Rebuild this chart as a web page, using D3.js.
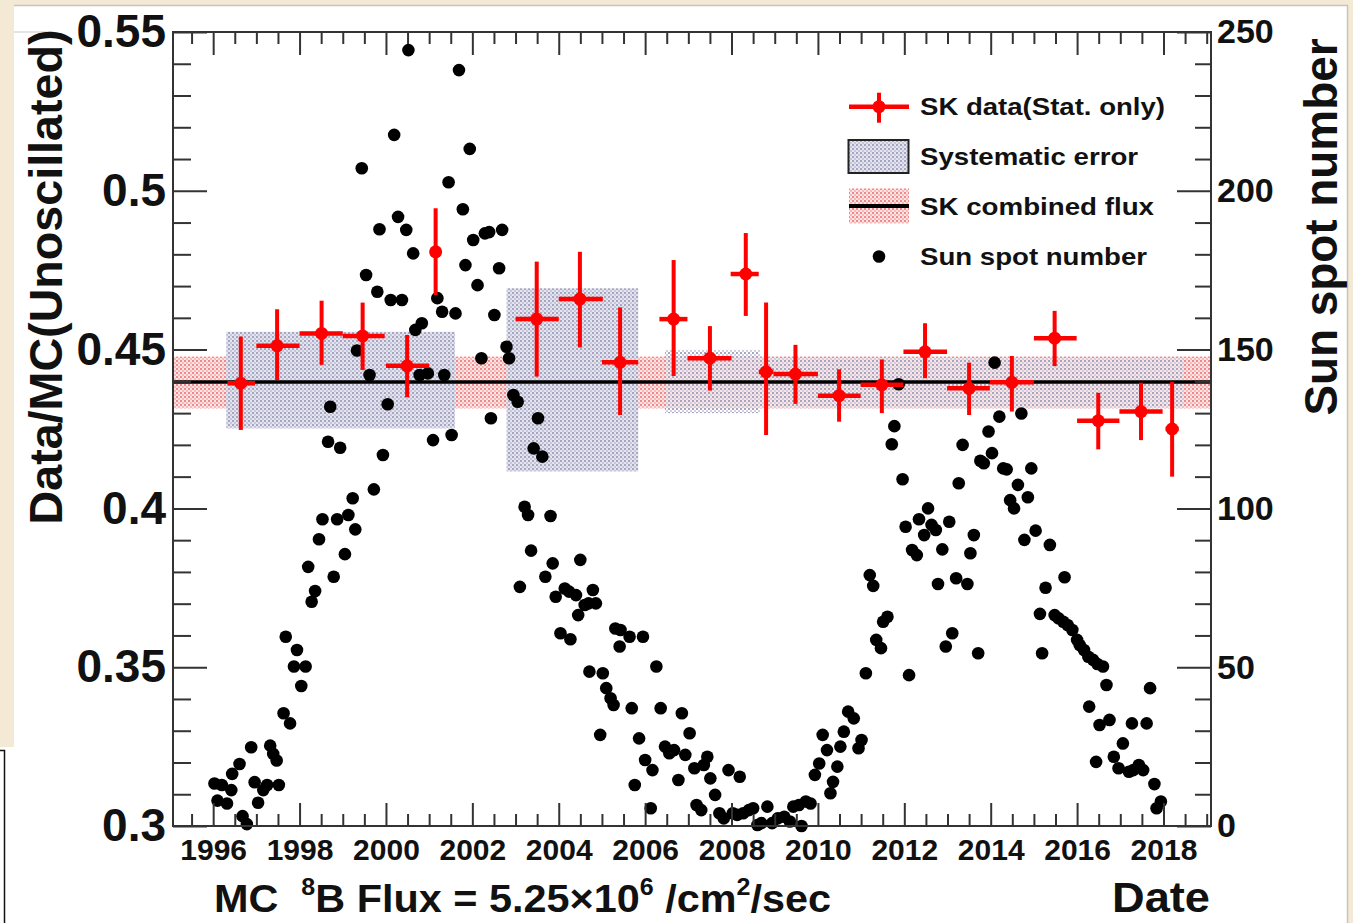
<!DOCTYPE html>
<html>
<head>
<meta charset="utf-8">
<script src="https://cdn.jsdelivr.net/npm/d3@7"></script>
<style>
  body { margin: 0; background: #f3e9d5; }
  svg { display: block; }
</style>
</head>
<body>
<div id="chart"></div>
<script>
const yearTicks = [1996, 1998, 2000, 2002, 2004, 2006, 2008, 2010, 2012, 2014, 2016, 2018];
const ratioTicks = [0.3, 0.35, 0.4, 0.45, 0.5, 0.55];
const ratioTickLabels = ["0.3", "0.35", "0.4", "0.45", "0.5", "0.55"];
const sunTicks = [0, 50, 100, 150, 200, 250];

// SK yearly points: bin edges, marker date, ratio and stat. error ends
const skFrom  = [1996.33, 1997.0, 1998.0, 1999.0, 2000.0, 2001.05, 2003.0, 2004.0, 2005.0, 2006.33, 2006.98, 2007.98, 2008.63, 2008.97, 2010.0, 2010.99, 2011.98, 2012.99, 2013.98, 2015.0, 2016.0, 2016.98, 2018.05];
const skTo    = [1996.97, 1998.0, 1999.0, 1999.97, 2001.0, 2001.25, 2004.0, 2005.02, 2005.84, 2006.98, 2008.0, 2008.63, 2008.97, 2010.0, 2010.99, 2011.98, 2012.99, 2013.98, 2015.0, 2015.99, 2016.98, 2017.98, 2018.35];
const skDate  = [1996.64, 1997.48, 1998.51, 1999.46, 2000.49, 2001.15, 2003.49, 2004.49, 2005.42, 2006.66, 2007.5, 2008.33, 2008.8, 2009.48, 2010.49, 2011.48, 2012.48, 2013.5, 2014.49, 2015.48, 2016.49, 2017.48, 2018.2];
const skRatio = [0.4394, 0.4512, 0.4551, 0.4543, 0.4449, 0.4808, 0.4596, 0.4659, 0.4460, 0.4596, 0.4473, 0.4738, 0.4430, 0.4423, 0.4355, 0.4389, 0.4493, 0.4378, 0.4397, 0.4536, 0.4276, 0.4305, 0.4250];
const skHigh  = [0.4541, 0.4627, 0.4654, 0.4648, 0.4546, 0.4945, 0.4777, 0.4808, 0.4633, 0.4782, 0.4574, 0.4867, 0.4648, 0.4515, 0.4438, 0.4469, 0.4583, 0.4459, 0.4480, 0.4622, 0.4364, 0.4396, 0.4399];
const skLow   = [0.4247, 0.4404, 0.4452, 0.4436, 0.4350, 0.4672, 0.4415, 0.4507, 0.4294, 0.4417, 0.4371, 0.4606, 0.4231, 0.4329, 0.4273, 0.4300, 0.4410, 0.4294, 0.4305, 0.4448, 0.4186, 0.4215, 0.4100];

// systematic error per SK phase
const sysFrom = [1996.30, 2002.79, 2006.46, 2008.66];
const sysTo   = [2001.60, 2005.84, 2008.66, 2018.45];
const sysLow  = [0.4252, 0.4116, 0.4300, 0.4316];
const sysHigh = [0.4556, 0.4693, 0.4499, 0.4477];

const combinedFlux = 0.4398;
const combinedLow = 0.4315;
const combinedHigh = 0.4478;

// monthly sun spot number
const sunDate = [
  1996.03, 1996.10, 1996.20, 1996.32, 1996.42, 1996.44, 1996.61, 1996.68, 1996.78, 1996.88, 1996.96,
  1997.04, 1997.16, 1997.25, 1997.32, 1997.39, 1997.47, 1997.52, 1997.63, 1997.68, 1997.78, 1997.87, 1997.94,
  1998.04, 1998.14, 1998.20, 1998.28, 1998.36, 1998.45, 1998.53, 1998.66, 1998.71, 1998.79, 1998.87, 1998.94,
  1999.05, 1999.13, 1999.23, 1999.29, 1999.33, 1999.44, 1999.54, 1999.62, 1999.72, 1999.80, 1999.85, 1999.93,
  2000.04, 2000.11, 2000.19, 2000.28, 2000.37, 2000.47, 2000.52, 2000.63, 2000.68, 2000.78, 2000.83, 2000.97,
  2001.09, 2001.19, 2001.30, 2001.35, 2001.45, 2001.52, 2001.61, 2001.69, 2001.78, 2001.84, 2001.94,
  2002.02, 2002.12, 2002.21, 2002.29, 2002.39, 2002.43, 2002.51, 2002.62, 2002.69, 2002.79, 2002.85, 2002.95,
  2003.05, 2003.10, 2003.21, 2003.29, 2003.36, 2003.42, 2003.52, 2003.62, 2003.69, 2003.81, 2003.86, 2003.93,
  2004.04, 2004.14, 2004.24, 2004.27, 2004.40, 2004.45, 2004.50, 2004.60, 2004.69, 2004.71, 2004.79, 2004.86, 2004.96,
  2005.02, 2005.10, 2005.20, 2005.27, 2005.31, 2005.41, 2005.43, 2005.64, 2005.69, 2005.76, 2005.86, 2005.95,
  2006.00, 2006.13, 2006.17, 2006.26, 2006.36, 2006.46, 2006.56, 2006.67, 2006.77, 2006.85, 2006.93,
  2007.03, 2007.14, 2007.19, 2007.30, 2007.36, 2007.44, 2007.51, 2007.62, 2007.72, 2007.82, 2007.93,
  2008.03, 2008.13, 2008.19, 2008.27, 2008.40, 2008.50, 2008.60, 2008.69, 2008.83, 2008.94,
  2009.07, 2009.22, 2009.35, 2009.43, 2009.56, 2009.62, 2009.72, 2009.83, 2009.93,
  2010.03, 2010.11, 2010.21, 2010.29, 2010.35, 2010.45, 2010.52, 2010.60, 2010.70, 2010.83, 2010.94,
  2011.01, 2011.11, 2011.20, 2011.28, 2011.35, 2011.46, 2011.51, 2011.61, 2011.71, 2011.77, 2011.87, 2011.96,
  2012.03, 2012.11, 2012.18, 2012.29, 2012.34, 2012.46, 2012.55, 2012.63, 2012.73, 2012.78, 2012.88, 2012.96,
  2013.04, 2013.11, 2013.20, 2013.26, 2013.35, 2013.46, 2013.53, 2013.61, 2013.71, 2013.76, 2013.84, 2013.95,
  2014.03, 2014.09, 2014.20, 2014.29, 2014.37, 2014.45, 2014.54, 2014.63, 2014.71, 2014.78, 2014.86, 2014.94,
  2015.04, 2015.14, 2015.19, 2015.27, 2015.37, 2015.48, 2015.57, 2015.68, 2015.71, 2015.78, 2015.89,
  2016.00, 2016.06, 2016.16, 2016.26, 2016.28, 2016.37, 2016.44, 2016.47, 2016.52, 2016.60, 2016.68, 2016.75, 2016.85, 2016.96,
  2017.06, 2017.20, 2017.27, 2017.30, 2017.43, 2017.53, 2017.61, 2017.69, 2017.79, 2017.84, 2017.94
];
const sunNumber = [
  13.4, 8.0, 12.9, 7.1, 11.3, 16.4, 19.5, 3.1, 0.6, 24.8, 13.8,
  7.3, 11.3, 12.9, 25.3, 22.7, 20.6, 12.9, 35.5, 59.6, 32.3, 50.2, 55.4,
  44.1, 50.2, 81.6, 70.6, 74.0, 90.3, 96.6, 121.0, 132.0, 78.5, 96.6, 119.1,
  85.6, 97.9, 103.2, 93.4, 149.7, 207.1, 173.5, 142.0, 106.0, 168.2, 187.9, 116.8,
  132.8, 165.6, 217.6, 191.8, 165.6, 187.7, 244.3, 180.3, 156.2, 142.0, 158.3, 142.5,
  121.5, 166.2, 161.9, 142.0, 202.7, 123.1, 161.4, 238.0, 194.2, 176.6, 213.2,
  184.5, 170.3, 147.3, 186.6, 187.0, 128.4, 160.9, 175.6, 187.7, 150.9, 147.3, 135.7,
  133.6, 75.3, 100.5, 97.9, 86.7, 118.9, 128.4, 116.3, 78.5, 97.6, 82.7, 72.2,
  60.7, 74.8, 73.8, 58.8, 72.7, 66.4, 83.8, 69.6, 70.1, 48.6, 74.3, 70.1, 28.7,
  48.1, 43.4, 40.2, 38.1, 62.2, 56.5, 61.7, 59.6, 37.1, 12.9, 27.6, 59.6,
  20.8, 5.6, 17.6, 50.2, 37.1, 25.0, 22.9, 23.9, 14.5, 35.5, 22.4,
  29.2, 18.2, 6.6, 5.0, 19.2, 21.8, 15.0, 9.8, 4.0, 2.4, 17.6,
  4.0, 3.5, 15.5, 4.0, 5.0, 5.6, 0.3, 0.9, 6.1, 0.9,
  2.4, 2.9, 1.4, 6.1, 6.6, 0.0, 7.7, 7.1, 16.1,
  19.7, 28.7, 23.9, 10.3, 13.9, 18.7, 25.0, 29.7, 36.0, 33.9, 24.5,
  27.1, 48.1, 79.0, 75.6, 58.6, 56.0, 64.3, 65.9, 120.2, 125.9, 139.1, 109.2,
  94.2, 47.5, 86.9, 85.3, 96.6, 91.6, 100.0, 94.8, 93.2, 76.2, 87.1, 56.5,
  95.8, 60.7, 78.0, 107.9, 120.0, 76.2, 85.9, 91.6, 54.4, 115.0, 114.2, 124.2,
  117.4, 145.9, 128.9, 112.6, 112.3, 102.6, 100.0, 107.4, 129.9, 90.1, 103.5, 112.6,
  93.0, 66.8, 54.4, 75.0, 88.5, 66.4, 65.4, 64.3, 78.3, 63.3, 61.7,
  58.6, 57.0, 55.4, 53.3, 37.6, 52.3, 20.2, 51.0, 31.8, 50.2, 44.4, 33.4, 21.8, 18.2,
  26.0, 17.1, 32.3, 17.6, 19.2, 17.6, 32.3, 43.4, 13.2, 5.6, 7.7
];

const legendLabels = ["SK data(Stat. only)", "Systematic error", "SK combined flux", "Sun spot number"];

(function() {
    const width = 1353;
    const height = 923;
    const font = "'Liberation Sans', Arial, Helvetica, sans-serif";
    const red = "#ff0000";
    const axisColor = "#333";

    const x = d3.scaleLinear().domain([1995.07, 2019.1]).range([173, 1211]);
    const y = d3.scaleLinear().domain([0.3, 0.55]).range([826, 32]);
    const ySun = d3.scaleLinear().domain([0, 250]).range([826, 32]);

    const svg = d3.select("#chart")
        .append("svg")
        .attr("width", width)
        .attr("height", height);

    // page background around the figure
    svg.append("rect").attr("width", width).attr("height", height).attr("fill", "#f3e9d5");
    svg.append("rect").attr("x", 14).attr("y", 6).attr("width", 1333).attr("height", 917).attr("fill", "#fff");
    svg.append("line").attr("x1", 14).attr("x2", 1348).attr("y1", 5.5).attr("y2", 5.5).attr("stroke", "#c9c4bb").attr("stroke-width", 1.5);
    svg.append("line").attr("x1", 1347.5).attr("x2", 1347.5).attr("y1", 5).attr("y2", height).attr("stroke", "#c9c4bb").attr("stroke-width", 1.5);
    svg.append("line").attr("x1", 14).attr("x2", 54).attr("y1", 32).attr("y2", 32).attr("stroke", "#dcdcdc").attr("stroke-width", 1.5);
    svg.append("rect").attr("x", 0).attr("y", 747).attr("width", 14).attr("height", 176).attr("fill", "#fff");
    svg.append("path").attr("d", "M0,750.5H4.5V923").attr("fill", "none").attr("stroke", "#111").attr("stroke-width", 1.5);

    const defs = svg.append("defs");
    const makePattern = (id, base, dark, light) => {
        const p = defs.append("pattern")
            .attr("id", id)
            .attr("width", 4)
            .attr("height", 4)
            .attr("patternUnits", "userSpaceOnUse");
        if (base) p.append("rect").attr("width", 4).attr("height", 4).attr("fill", base);
        p.append("rect").attr("width", 2).attr("height", 2).attr("fill", dark);
        p.append("rect").attr("x", 2).attr("y", 2).attr("width", 2).attr("height", 2).attr("fill", light);
    };
    makePattern("sysSolid", "#e4e4ee", "#a6a6c2", "#c6c6da");
    makePattern("sysMesh", null, "#a6a6c2", "#cfcfe0");
    makePattern("fluxFill", "#fde4e4", "#f08a8a", "#f8b8b8");

    // combined flux band and systematic boxes
    svg.append("rect")
        .attr("x", x.range()[0])
        .attr("width", x.range()[1] - x.range()[0])
        .attr("y", y(combinedHigh))
        .attr("height", y(combinedLow) - y(combinedHigh))
        .attr("fill", "url(#fluxFill)");

    svg.append("g")
        .selectAll("rect")
        .data(sysFrom.map((d, i) => ({ from: d, to: sysTo[i], low: sysLow[i], high: sysHigh[i], i })))
        .join("rect")
        .attr("x", d => x(d.from))
        .attr("width", d => x(d.to) - x(d.from))
        .attr("y", d => y(d.high))
        .attr("height", d => y(d.low) - y(d.high))
        .attr("fill", d => d.i < 2 ? "url(#sysSolid)" : "url(#sysMesh)");

    svg.append("line")
        .attr("x1", x.range()[0])
        .attr("x2", x.range()[1])
        .attr("y1", y(combinedFlux))
        .attr("y2", y(combinedFlux))
        .attr("stroke", "#000")
        .attr("stroke-width", 3.5);

    // sun spots
    svg.append("g")
        .selectAll("circle")
        .data(sunDate.map((d, i) => ({ date: d, n: sunNumber[i] })))
        .join("circle")
        .attr("cx", d => x(d.date))
        .attr("cy", d => ySun(d.n))
        .attr("r", 6.3)
        .attr("fill", "#000");

    // SK data with stat. errors
    const sk = skDate.map((d, i) => ({ date: d, from: skFrom[i], to: skTo[i], v: skRatio[i], hi: skHigh[i], lo: skLow[i] }));
    const skG = svg.append("g");
    skG.selectAll(".hbar")
        .data(sk)
        .join("line")
        .attr("class", "hbar")
        .attr("x1", d => x(d.from))
        .attr("x2", d => x(d.to))
        .attr("y1", d => y(d.v))
        .attr("y2", d => y(d.v))
        .attr("stroke", red)
        .attr("stroke-width", 4.5);
    skG.selectAll(".vbar")
        .data(sk)
        .join("line")
        .attr("class", "vbar")
        .attr("x1", d => x(d.date))
        .attr("x2", d => x(d.date))
        .attr("y1", d => y(d.hi))
        .attr("y2", d => y(d.lo))
        .attr("stroke", red)
        .attr("stroke-width", 4);
    skG.selectAll("circle")
        .data(sk)
        .join("circle")
        .attr("cx", d => x(d.date))
        .attr("cy", d => y(d.v))
        .attr("r", 6.5)
        .attr("fill", red);

    // axes
    const drawAxis = (axis, transform, size) => {
        const g = svg.append("g").attr("transform", transform).call(axis);
        g.select(".domain").remove();
        g.selectAll(".tick line").attr("stroke", axisColor).attr("stroke-width", 2);
        g.selectAll("text")
            .attr("font-family", font)
            .attr("font-weight", "bold")
            .attr("font-size", size)
            .attr("fill", "#111");
        return g;
    };
    const minorYears = d3.range(1995.5, 2019.1, 0.5).filter(d => d % 2 !== 0);
    const minorRatio = d3.range(31, 55).filter(d => d % 5 !== 0).map(d => d / 100);
    const minorSun = d3.range(10, 250, 10).filter(d => d % 50 !== 0);

    drawAxis(d3.axisBottom(x).tickValues(yearTicks).tickSize(-23).tickPadding(13).tickFormat(d3.format("d")), "translate(0,826)", 30);
    drawAxis(d3.axisBottom(x).tickValues(minorYears).tickSize(-12).tickFormat(""), "translate(0,826)");
    drawAxis(d3.axisTop(x).tickValues(yearTicks).tickSize(-23).tickFormat(""), "translate(0,32)");
    drawAxis(d3.axisTop(x).tickValues(minorYears).tickSize(-12).tickFormat(""), "translate(0,32)");
    drawAxis(d3.axisLeft(y).tickValues(ratioTicks).tickSize(-34).tickPadding(7).tickFormat((d, i) => ratioTickLabels[i]), "translate(173,0)", 46);
    drawAxis(d3.axisLeft(y).tickValues(minorRatio).tickSize(-18).tickFormat(""), "translate(173,0)");
    drawAxis(d3.axisRight(ySun).tickValues(sunTicks).tickSize(-34).tickPadding(6), "translate(1211,0)", 34);
    drawAxis(d3.axisRight(ySun).tickValues(minorSun).tickSize(-16).tickFormat(""), "translate(1211,0)");

    svg.append("rect")
        .attr("x", 173).attr("y", 32)
        .attr("width", 1038).attr("height", 794)
        .attr("fill", "none")
        .attr("stroke", axisColor)
        .attr("stroke-width", 2);

    // titles
    const title = (txt, size, len) => svg.append("text")
        .attr("font-family", font)
        .attr("font-weight", "bold")
        .attr("font-size", size)
        .attr("fill", "#111")
        .attr("textLength", len)
        .attr("lengthAdjust", "spacingAndGlyphs")
        .text(txt);

    title("Data/MC(Unoscillated)", 47, 495)
        .attr("text-anchor", "middle")
        .attr("transform", "translate(62,277) rotate(-90)");
    title("Sun spot number", 46, 377)
        .attr("text-anchor", "middle")
        .attr("transform", "translate(1337,227) rotate(-90)");
    title("Date", 42, 98).attr("x", 1112).attr("y", 912);

    const mc = svg.append("text")
        .attr("x", 214)
        .attr("y", 912)
        .attr("font-family", font)
        .attr("font-weight", "bold")
        .attr("font-size", 38)
        .attr("fill", "#111")
        .attr("textLength", 617)
        .attr("lengthAdjust", "spacingAndGlyphs")
        .style("white-space", "pre");
    mc.append("tspan").text("MC  ");
    mc.append("tspan").attr("font-size", 23).attr("dy", -17).text("8");
    mc.append("tspan").attr("dy", 17).text("B Flux = 5.25×10");
    mc.append("tspan").attr("font-size", 23).attr("dy", -17).text("6");
    mc.append("tspan").attr("dy", 17).text(" /cm");
    mc.append("tspan").attr("font-size", 23).attr("dy", -17).text("2");
    mc.append("tspan").attr("dy", 17).text("/sec");

    // legend
    const legend = svg.append("g");
    const rowY = [106.7, 156.5, 206, 256.5];
    const legendLen = [245, 218, 234, 227];
    legend.selectAll("text")
        .data(legendLabels)
        .join("text")
        .attr("x", 920)
        .attr("y", (d, i) => rowY[i] + 8.5)
        .attr("font-family", font)
        .attr("font-weight", "bold")
        .attr("font-size", 24)
        .attr("fill", "#111")
        .attr("textLength", (d, i) => legendLen[i])
        .attr("lengthAdjust", "spacingAndGlyphs")
        .text(d => d);

    legend.append("line").attr("x1", 849).attr("x2", 909).attr("y1", rowY[0]).attr("y2", rowY[0]).attr("stroke", red).attr("stroke-width", 4.5);
    legend.append("line").attr("x1", 879).attr("x2", 879).attr("y1", rowY[0] - 14).attr("y2", rowY[0] + 16).attr("stroke", red).attr("stroke-width", 4);
    legend.append("circle").attr("cx", 879).attr("cy", rowY[0]).attr("r", 6.5).attr("fill", red);

    legend.append("rect").attr("x", 848.5).attr("y", 140).attr("width", 60).attr("height", 33)
        .attr("fill", "url(#sysSolid)").attr("stroke", "#222").attr("stroke-width", 2);

    legend.append("rect").attr("x", 849).attr("y", 188.5).attr("width", 60).attr("height", 35).attr("fill", "url(#fluxFill)");
    legend.append("line").attr("x1", 849).attr("x2", 909).attr("y1", rowY[2]).attr("y2", rowY[2]).attr("stroke", "#000").attr("stroke-width", 4);

    legend.append("circle").attr("cx", 879).attr("cy", rowY[3]).attr("r", 6.3).attr("fill", "#000");
})();
</script>
</body>
</html>
